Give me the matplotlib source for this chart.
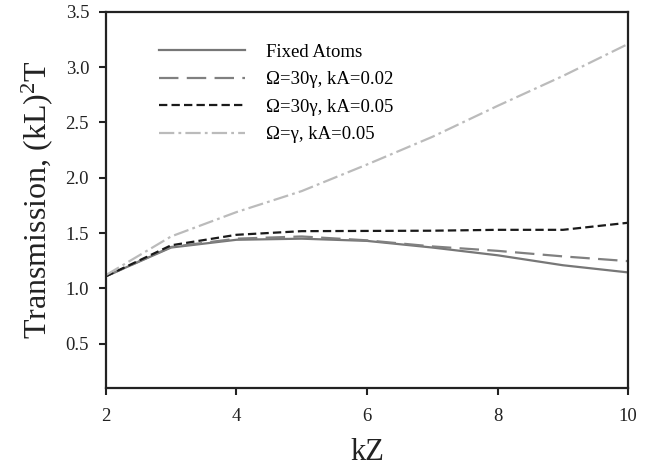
import numpy as np
import matplotlib
matplotlib.use("Agg")
from matplotlib import pyplot as plt

plt.rcParams['font.family'] = ['Liberation Serif', 'DejaVu Serif']
plt.rcParams['mathtext.fontset'] = 'custom'
plt.rcParams['mathtext.rm'] = 'Liberation Serif'
plt.rcParams['mathtext.default'] = 'regular'
plt.rcParams['lines.scale_dashes'] = False

# data
kz = [2, 3, 4, 5, 6, 7, 8, 9, 10]
fixed_atoms = [1.11, 1.37, 1.44, 1.45, 1.43, 1.37, 1.30, 1.21, 1.145]
om30_ka002 = [1.11, 1.375, 1.45, 1.47, 1.435, 1.38, 1.34, 1.29, 1.247]
om30_ka005 = [1.11, 1.39, 1.485, 1.518, 1.52, 1.522, 1.53, 1.53, 1.594]
om1_ka005 = [1.12, 1.47, 1.69, 1.88, 2.12, 2.37, 2.65, 2.92, 3.21]

labels = ['Fixed Atoms', 'Ω=30γ, kA=0.02', 'Ω=30γ, kA=0.05', 'Ω=γ, kA=0.05']

fig = plt.figure(figsize=(6.49, 4.71), dpi=100)
ax = fig.add_axes([0.163, 0.176, 0.805, 0.799])

ax.plot(kz, fixed_atoms, color='#777777', lw=1.6, label=labels[0])
ax.plot(kz, om30_ka002, color='#808080', lw=1.6, dashes=(14, 6), label=labels[1])
ax.plot(kz, om30_ka005, color='#1a1a1a', lw=1.6, dashes=(6, 3), label=labels[2])
ax.plot(kz, om1_ka005, color='#bbbbbb', lw=1.6, dashes=(11, 3, 2, 3), label=labels[3])

ax.set_xlim(2, 10)
ax.set_ylim(0.1, 3.5)
ax.set_xticks([2, 4, 6, 8, 10])
ax.set_yticks([0.5, 1.0, 1.5, 2.0, 2.5, 3.0, 3.5])
ax.set_yticklabels(['0.5', '1.0', '1.5', '2.0', '2.5', '3.0', '3.5'])
ax.tick_params(direction='out', length=5, width=1.5, labelsize=13.5, colors='#222222')
ax.tick_params(axis='x', pad=9)
ax.tick_params(axis='y', pad=7)
for s in ax.spines.values():
    s.set_linewidth(1.6)
    s.set_color('#222222')

ax.set_xlabel('kZ', fontsize=22, labelpad=10, color='#222222')
ax.set_ylabel('Transmission, (kL)$^{2}$T', fontsize=23, labelpad=8, color='#222222')

ax.legend(loc='upper left', bbox_to_anchor=(0.07, 0.96), frameon=False,
          fontsize=13.5, handlelength=4.6, handletextpad=1.07, labelspacing=0.55)

plt.savefig('out.png', dpi=100)
